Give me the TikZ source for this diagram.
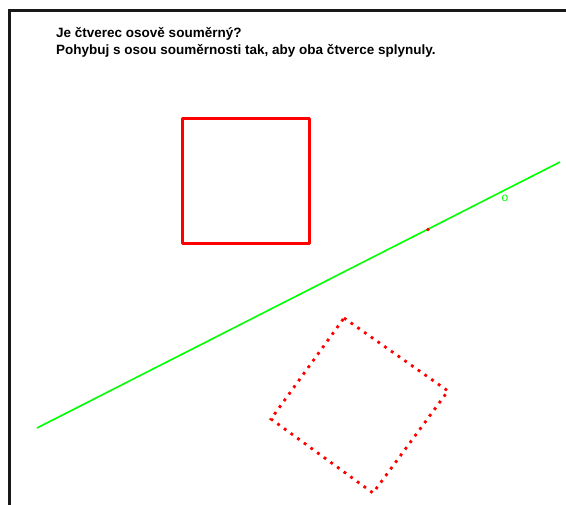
\documentclass[tikz,border=0pt]{standalone}
\usepackage{fontspec}
\setmainfont{Liberation Sans}
\begin{document}
\begin{tikzpicture}[x=1pt,y=-1pt,
  frame/.style={line width=3pt,black!90},
  solidsq/.style={draw=red,line width=3pt,line join=round},
  dotsq/.style={draw=red,line width=2.8pt,dash pattern=on 2.8pt off 5.4pt},
  axis/.style={draw=green,line width=1.6pt},
  lbl/.style={anchor=base west,inner sep=0pt,font=\bfseries\fontsize{13.5}{15}\selectfont}]
\useasboundingbox (0,0) rectangle (566,505);
\fill[white] (0,0) rectangle (566,505);
\coordinate (fa) at (9.5,505);
\coordinate (fb) at (9.5,11);
\coordinate (fc) at (566,11);
\draw[frame] (fa) -- (fb) -- (fc);
\node[lbl] (t1) at (56,38) {Je čtverec osově souměrný?};
\node[lbl] (t2) at (56,55) {Pohybuj s osou souměrnosti tak, aby oba čtverce splynuly.};
\coordinate (a1) at (182,119);
\coordinate (a2) at (309,119);
\coordinate (a3) at (309,244);
\coordinate (a4) at (182,244);
\draw[solidsq] (a1) -- (a2) -- (a3) -- (a4) -- cycle;
\coordinate (b1) at (344,318);
\coordinate (b2) at (448,391);
\coordinate (b3) at (373,493);
\coordinate (b4) at (271,419);
\draw[dotsq] (b1) -- (b2) -- (b3) -- (b4) -- cycle;
\coordinate (l1) at (37,428);
\coordinate (l2) at (560,162);
\draw[axis] (l1) -- (l2);
\coordinate (p) at (428,229.5);
\fill[red] (p) circle (1.8pt);
\node[text=green,font=\fontsize{12}{14}\selectfont,inner sep=0pt] (o) at (505,198) {o};
\end{tikzpicture}
\end{document}
